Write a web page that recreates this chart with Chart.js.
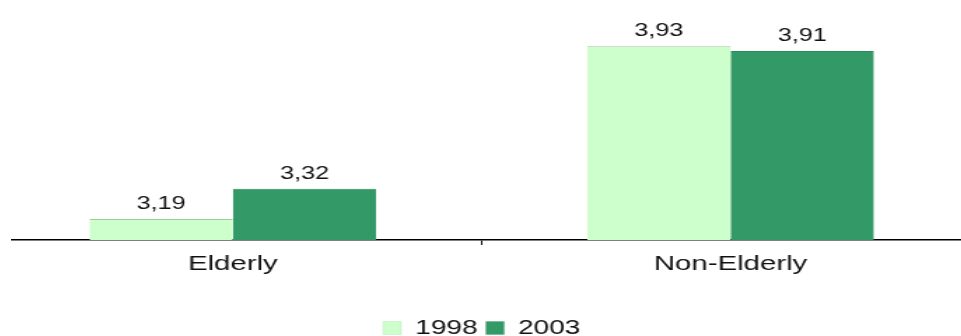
<!DOCTYPE html>
<html>
<head>
<meta charset="utf-8">
<script src="https://cdn.jsdelivr.net/npm/chart.js@4/dist/chart.umd.min.js"></script>
<style>
  html, body { margin: 0; padding: 0; background: #fff; }
  body { width: 961px; height: 336px; position: relative; overflow: hidden; }
  /* the original picture is stretched sideways, so the chart is drawn narrow and widened */
  #clip { position: absolute; left: 11px; top: 0; width: 950px; height: 336px; overflow: hidden; }
  #stretch { position: absolute; left: -27px; top: 0; width: 711px; height: 348px;
             transform: scaleX(1.4); transform-origin: 0 0; }
</style>
</head>
<body>
<div id="clip"><div id="stretch"><canvas id="c" width="711" height="348"></canvas></div></div>
<script>
const categories = ['Elderly', 'Non-Elderly'];
const years = ['1998', '2003'];
const values1998 = [3.19, 3.93];
const values2003 = [3.32, 3.91];
const yMin = 3.1;
const yMax = 4.0;

const FONT = 'Arial, "Liberation Sans", sans-serif';

// value labels above the bars, with a decimal comma
const barLabels = {
  id: 'barLabels',
  afterDatasetsDraw(chart) {
    const ctx = chart.ctx;
    ctx.save();
    ctx.font = '18px ' + FONT;
    ctx.fillStyle = '#111';
    ctx.textAlign = 'center';
    ctx.textBaseline = 'bottom';
    chart.data.datasets.forEach((ds, i) => {
      chart.getDatasetMeta(i).data.forEach((bar, j) => {
        ctx.fillText(ds.data[j].toFixed(2).replace('.', ','), bar.x, bar.y - 6);
      });
    });
    ctx.restore();
  }
};

new Chart(document.getElementById('c'), {
  type: 'bar',
  data: {
    labels: categories,
    datasets: [
      { label: years[0], data: values1998, backgroundColor: '#CCFFCC',
        borderColor: '#99cc99', borderWidth: {top: 1, left: 0, right: 0, bottom: 0}, borderSkipped: false },
      { label: years[1], data: values2003, backgroundColor: '#339966',
        borderColor: '#2b8a58', borderWidth: {top: 1, left: 0, right: 0, bottom: 0}, borderSkipped: false }
    ]
  },
  options: {
    responsive: false,
    animation: false,
    devicePixelRatio: 1,
    layout: { padding: { top: 30, left: 0, right: 0, bottom: 0 } },
    datasets: { bar: { barPercentage: 1, categoryPercentage: 0.576 } },
    scales: {
      x: {
        offset: true,
        grid: { offset: true, drawOnChartArea: false, drawTicks: true, tickLength: 5,
                color: '#000', lineWidth: 1 },
        border: { display: true, color: '#000', width: 1.5 },
        ticks: { color: '#111', font: { family: FONT, size: 21 }, padding: 7 },
        afterFit(s) { s.height = 72; }
      },
      y: { display: false, min: yMin, max: yMax }
    },
    plugins: {
      legend: {
        position: 'bottom',
        labels: { color: '#111', font: { family: FONT, size: 20 }, boxWidth: 13, boxHeight: 13, padding: 6 }
      },
      tooltip: { enabled: false }
    }
  },
  plugins: [barLabels]
});
</script>
</body>
</html>
